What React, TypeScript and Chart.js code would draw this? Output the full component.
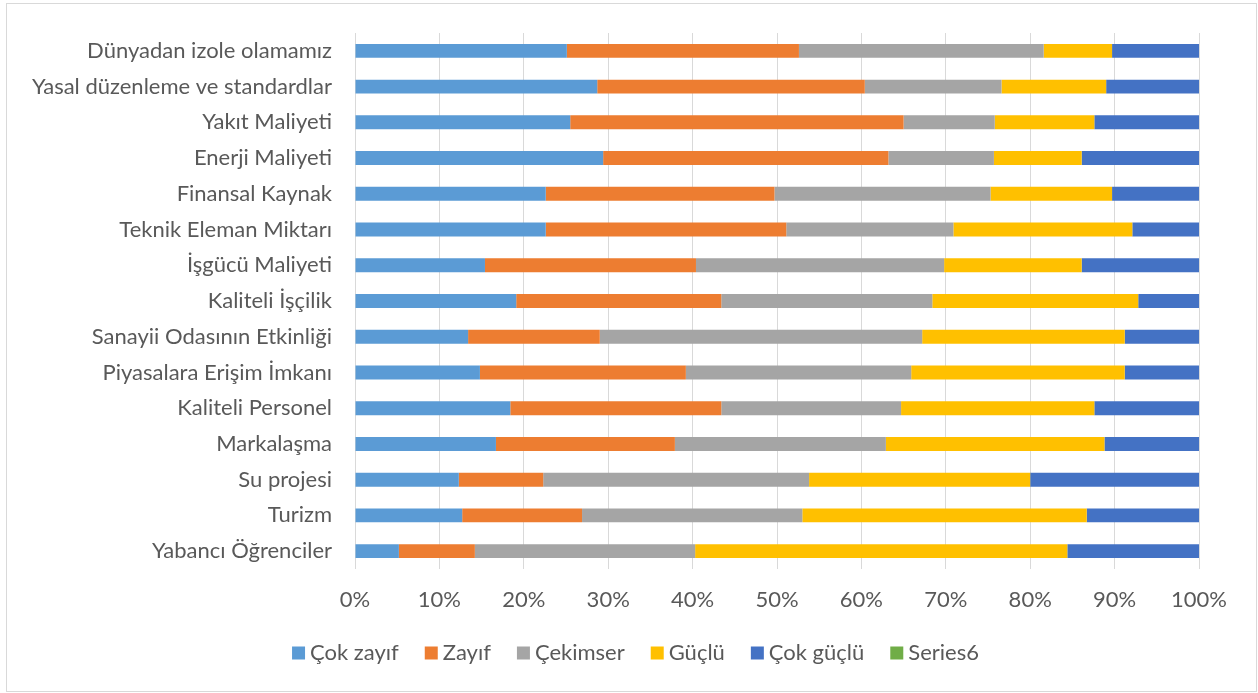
import React, { useEffect, useRef } from "react";
import { Chart, registerables } from "chart.js";

Chart.register(...registerables);

const categories = [
  "Dünyadan izole olamamız",
  "Yasal düzenleme ve standardlar",
  "Yakıt Maliyeti",
  "Enerji Maliyeti",
  "Finansal Kaynak",
  "Teknik Eleman Miktarı",
  "İşgücü Maliyeti",
  "Kaliteli İşçilik",
  "Sanayii Odasının Etkinliği",
  "Piyasalara Erişim İmkanı",
  "Kaliteli Personel",
  "Markalaşma",
  "Su projesi",
  "Turizm",
  "Yabancı Öğrenciler",
];

const cokZayif = [25.1, 28.7, 25.5, 29.4, 22.6, 22.6, 15.4, 19.1, 13.4, 14.8, 18.4, 16.7, 12.3, 12.7, 5.2];
const zayif = [27.5, 31.7, 39.5, 33.8, 27.1, 28.5, 25.0, 24.3, 15.6, 24.4, 25.0, 21.2, 10.0, 14.2, 9.0];
const cekimser = [29.0, 16.2, 10.8, 12.5, 25.6, 19.8, 29.4, 25.0, 38.2, 26.7, 21.3, 25.0, 31.5, 26.1, 26.1];
const guclu = [8.1, 12.4, 11.8, 10.4, 14.4, 21.2, 16.3, 24.4, 24.0, 25.3, 22.9, 25.9, 26.2, 33.7, 44.1];
const cokGuclu = [10.3, 11.0, 12.4, 13.9, 10.3, 7.9, 13.9, 7.2, 8.8, 8.8, 12.4, 11.2, 20.0, 13.3, 15.6];
const series6: number[] = [];

const seriesNames = ["Çok zayıf", "Zayıf", "Çekimser", "Güçlü", "Çok güçlü", "Series6"];
const seriesColors = ["#5B9BD5", "#ED7D31", "#A5A5A5", "#FFC000", "#4472C4", "#70AD47"];
const xTicks = [0, 10, 20, 30, 40, 50, 60, 70, 80, 90, 100];

const FONT = "Lato";
const FS = 22;
const TEXT = "#595959";

export default function App() {
  const ref = useRef<HTMLCanvasElement | null>(null);

  useEffect(() => {
    if (!ref.current) return;
    const values = [cokZayif, zayif, cekimser, guclu, cokGuclu, series6];
    const chart = new Chart(ref.current, {
      type: "bar",
      data: {
        labels: categories,
        datasets: values.map((v, i) => ({
          label: seriesNames[i],
          data: v,
          backgroundColor: seriesColors[i],
          borderWidth: 0,
          barPercentage: 0.39,
          categoryPercentage: 1,
          yAxisID: "y",
        })),
      },
      options: {
        indexAxis: "y",
        animation: false,
        responsive: false,
        maintainAspectRatio: false,
        layout: { padding: { top: 33, right: 0, left: 19, bottom: 19 } },
        plugins: {
          tooltip: { enabled: false },
          legend: {
            position: "bottom",
            align: "center",
            labels: {
              font: { family: FONT, size: FS },
              color: TEXT,
              usePointStyle: true,
              pointStyle: "rect",
              boxWidth: 1,
              boxHeight: 13,
              padding: 32,
            },
          },
        },
        scales: {
          x: {
            stacked: true,
            min: 0,
            max: 100,
            afterBuildTicks: (s: any) => {
              s.ticks = xTicks.map((v) => ({ value: v }));
            },
            afterFit: (s: any) => {
              s.height = 41;
            },
            ticks: {
              font: { family: FONT, size: FS },
              color: TEXT,
              padding: 18,
              maxRotation: 0,
              callback: (v: any) => v + "%",
            },
            grid: { color: "#D9D9D9", lineWidth: 1, drawTicks: false },
            border: { display: false },
          },
          y: {
            stacked: true,
            afterFit: (s: any) => {
              s.width = 336;
              s.paddingTop = 0;
              s.paddingBottom = 0;
            },
            ticks: {
              font: { family: FONT, size: FS },
              color: TEXT,
              padding: 23,
            },
            grid: { display: false, drawTicks: false },
            border: { display: false },
          },
          y2: {
            type: "category",
            position: "right",
            afterFit: (s: any) => {
              s.width = 59;
              s.paddingTop = 0;
              s.paddingBottom = 0;
            },
            ticks: { display: false },
            grid: { display: false, drawTicks: false },
            border: { display: false },
          },
        },
      },
    });
    return () => chart.destroy();
  }, []);

  return (
    <div style={{ position: "absolute", left: 0, top: 0, width: 1258, height: 693, background: "#fff" }}>
      <canvas ref={ref} width={1258} height={693} style={{ position: "absolute", left: 0, top: 0, width: 1258, height: 693 }} />
      <div
        style={{
          position: "absolute",
          left: 6,
          top: 3,
          width: 1251,
          height: 689,
          boxSizing: "border-box",
          border: "1px solid #D9D9D9",
          pointerEvents: "none",
        }}
      />
    </div>
  );
}
